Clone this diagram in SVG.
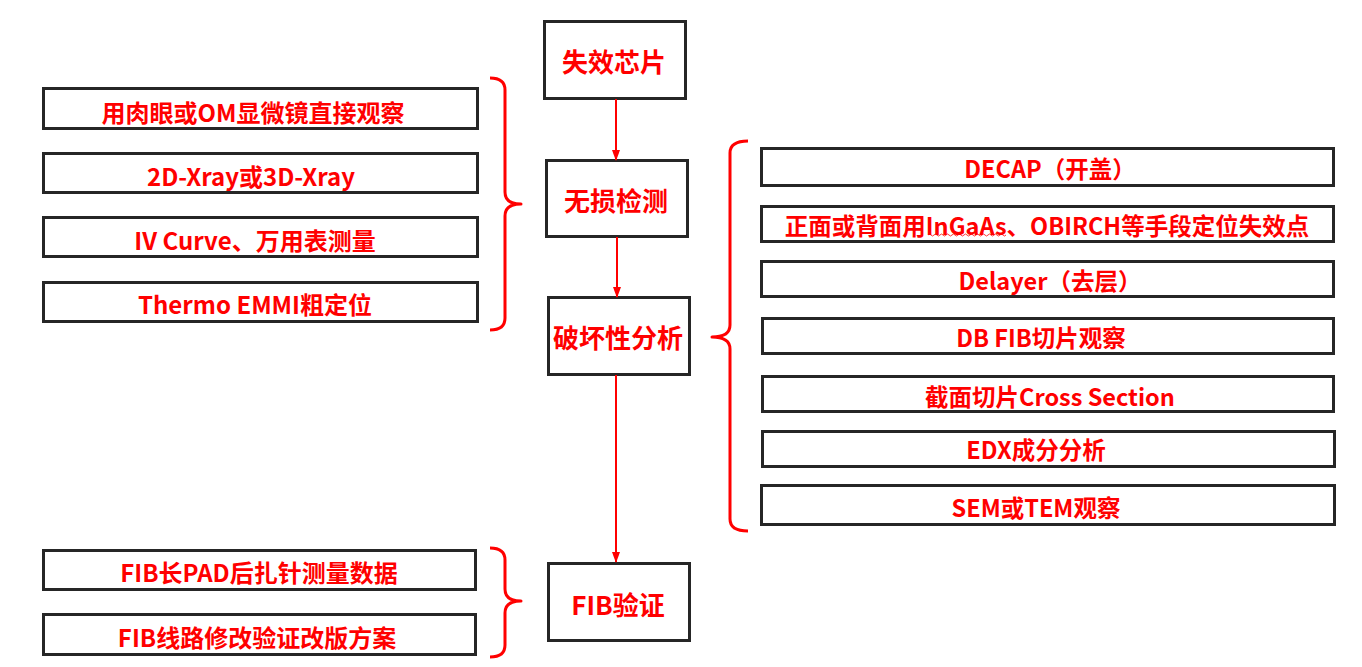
<svg xmlns="http://www.w3.org/2000/svg" width="1362" height="667" viewBox="0 0 1362 667">
<defs>
<style>
.box{fill:#fff;stroke:#262626;stroke-width:3}
.t{fill:#ff0000;font-family:"Noto Sans CJK SC","Noto Sans",sans-serif;font-weight:bold;text-anchor:middle;dominant-baseline:central}
.s{font-size:24px}
.r{font-size:23.5px}
.c{font-size:26px}
.brace{fill:none;stroke:#ff0000;stroke-width:3;stroke-linejoin:round}
.arrow{fill:none;stroke:#ff0000;stroke-width:2}
</style>
<marker id="ah" markerUnits="userSpaceOnUse" markerWidth="11" markerHeight="10" viewBox="0 0 11 10" refX="10" refY="5" orient="auto">
<path d="M0,1 L11,5 L0,9 Z" fill="#ff0000"/>
</marker>
</defs>
<rect width="1362" height="667" fill="#fff"/>

<g id="n-shixiaoxinpian"><rect class="box" x="544.5" y="21.5" width="141" height="77"/><text class="t c" x="614" y="60">失效芯片</text></g>
<g id="n-wusunjiance"><rect class="box" x="546.5" y="160.5" width="141" height="76"/><text class="t c" x="616" y="199">无损检测</text></g>
<g id="n-pohuaixing"><rect class="box" x="548.5" y="297.5" width="141" height="77"/><text class="t c" x="618" y="336">破坏性分析</text></g>
<g id="n-fibyanzheng"><rect class="box" x="548.5" y="563.5" width="141" height="77"/><text class="t c" x="618" y="603">FIB验证</text></g>

<g id="n-l1"><rect class="box" x="43.5" y="88.5" width="434" height="40"/><text class="t s" x="253" y="111">用肉眼或OM显微镜直接观察</text></g>
<g id="n-l2"><rect class="box" x="43.5" y="153.5" width="434" height="39"/><text class="t s" x="251" y="175">2D-Xray或3D-Xray</text></g>
<g id="n-l3"><rect class="box" x="43.5" y="217.5" width="434" height="39"/><text class="t s" x="255" y="239">IV Curve、万用表测量</text></g>
<g id="n-l4"><rect class="box" x="43.5" y="282.5" width="434" height="39"/><text class="t s" x="255" y="303">Thermo EMMI粗定位</text></g>

<g id="n-b1"><rect class="box" x="43.5" y="550.5" width="432" height="39"/><text class="t s" x="259" y="571">FIB长PAD后扎针测量数据</text></g>
<g id="n-b2"><rect class="box" x="43.5" y="614.5" width="432" height="40"/><text class="t s" x="257" y="636">FIB线路修改验证改版方案</text></g>

<g id="n-r1"><rect class="box" x="761.5" y="148.5" width="572" height="37"/><text class="t r" x="1050" y="168">DECAP（开盖）</text></g>
<g id="n-r2"><rect class="box" x="761.5" y="206.5" width="572" height="35"/><text class="t r" x="1047" y="225">正面或背面用InGaAs、OBIRCH等手段定位失效点</text>
<path d="M928,235 q1.5,-2 3,0 t3,0 t3,0 t3,0 t3,0 t3,0 t3,0 t3,0 t3,0 t3,0 t3,0 t3,0 t3,0 t3,0 t3,0 t3,0 t3,0 t3,0 t3,0 t3,0 t3,0 t3,0 t3,0 t3,0 t3,0 t3,0" fill="none" stroke="#ff0000" stroke-width="0.8"/></g>
<g id="n-r3"><rect class="box" x="761.5" y="261.5" width="572" height="35"/><text class="t r" x="1050" y="280">Delayer（去层）</text></g>
<g id="n-r4"><rect class="box" x="762.5" y="318.5" width="571" height="35"/><text class="t r" x="1041" y="337">DB FIB切片观察</text></g>
<g id="n-r5"><rect class="box" x="762.5" y="376.5" width="571" height="35"/><text class="t r" x="1050" y="396">截面切片Cross Section</text></g>
<g id="n-r6"><rect class="box" x="762.5" y="431.5" width="572" height="35"/><text class="t r" x="1036" y="449">EDX成分分析</text></g>
<g id="n-r7"><rect class="box" x="761.5" y="485.5" width="573" height="39"/><text class="t r" x="1036" y="507">SEM或TEM观察</text></g>

<g id="connectors">
<line class="arrow" x1="616" y1="99" x2="616" y2="160" marker-end="url(#ah)"/>
<line class="arrow" x1="617" y1="237" x2="617" y2="297" marker-end="url(#ah)"/>
<line class="arrow" x1="616" y1="375" x2="616" y2="562" marker-end="url(#ah)"/>
<path class="brace" d="M490,78 Q505,78 505,90 L505,192 Q505,204 521,204 Q505,204 505,216 L505,318 Q505,330 490,330"/>
<path class="brace" d="M748,141 Q730,141 730,153 L730,325 Q730,337 712,337 Q730,337 730,349 L730,519 Q730,531 748,531"/>
<path class="brace" d="M490,548 Q505,548 505,560 L505,589 Q505,601 521,601 Q505,601 505,613 L505,645 Q505,657 490,657"/>
</g>
</svg>
